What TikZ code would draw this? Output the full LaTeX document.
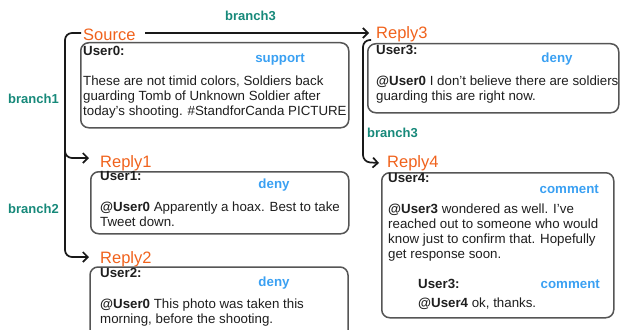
\documentclass[tikz,border=0pt]{standalone}
\usepackage{fontspec}
\setmainfont{Liberation Sans}
\usetikzlibrary{arrows.meta}
\definecolor{orng}{HTML}{F0621C}
\definecolor{brteal}{HTML}{17897A}
\definecolor{stance}{HTML}{3AA0F2}
\definecolor{boxc}{HTML}{555555}
\definecolor{txt}{HTML}{1E1E1E}
\tikzset{
  post/.style={draw=boxc, line width=1.5pt, rounded corners=8pt, inner sep=0pt, anchor=north west},
  conn/.style={draw=black!90, line width=1.7pt, rounded corners=7pt, -{Straight Barb[length=5pt,width=10pt]}},
  lbl/.style={text=orng, font=\fontsize{16.5}{18}\selectfont, inner sep=0pt, anchor=base west},
  br/.style={text=brteal, font=\fontsize{13}{15}\selectfont\bfseries, inner sep=0pt, anchor=base west},
  usr/.style={text=txt, font=\fontsize{13.3}{15}\selectfont\bfseries, inner sep=0pt, anchor=base west},
  body/.style={text=txt, font=\fontsize{13.3}{15}\selectfont, inner sep=0pt, anchor=base west},
  stc/.style={text=stance, font=\fontsize{13.3}{15}\selectfont\bfseries, inner sep=0pt, anchor=base},
  stcr/.style={stc, anchor=base east},
}
\begin{document}
\begin{tikzpicture}[x=1pt,y=-1pt]
\useasboundingbox (0,0) rectangle (620,329);
% boxes
\node[post, minimum width=268pt, minimum height=85pt] (src) at (80,42) {};
\node[post, minimum width=251pt, minimum height=69pt] (r3) at (367,43) {};
\node[post, minimum width=258pt, minimum height=62pt] (r1) at (90,171) {};
\node[post, minimum width=232pt, minimum height=145pt] (r4) at (381,172) {};
\draw[draw=boxc, line width=1.5pt, rounded corners=8pt] (90,330) -- (90,267) -- (348,267) -- (348,330);
% labels
\node[lbl] (srcl) at (83,41) {Source};
\node[lbl] (r3l) at (376,39) {Reply3};
\node[lbl] (r1l) at (100,167) {Reply1};
\node[lbl] (r2l) at (100,263) {Reply2};
\node[lbl] (r4l) at (387,167) {Reply4};
\node[br] (b3a) at (225,21) {branch3};
\node[br] (b1) at (8,103) {branch1};
\node[br] (b2) at (8,213) {branch2};
\node[br] (b3b) at (367,137) {branch3};
% source
\node[usr] (u0) at (83,56) {User0:};
\node[stc] (st0) at (280,62) {support};
\node[body] (s0a) at (83,85) {These are not timid colors, Soldiers back};
\node[body] (s0b) at (83,100) {guarding Tomb of Unknown Soldier after};
\node[body] (s0c) at (83,115) {today's shooting. \#StandforCanda PICTURE};
% reply3
\node[usr] (u3) at (376,55) {User3:};
\node[stc] (st3) at (557,62) {deny};
\node[body] (s3a) at (376,85) {\textbf{@User0} I don't believe there are soldiers};
\node[body] (s3b) at (376,100) {guarding this are right now.};
% reply1
\node[usr] (u1) at (100,180) {User1:};
\node[stc] (st1) at (274,188) {deny};
\node[body] (s1a) at (100,211) {\textbf{@User0} Apparently a hoax. Best to take};
\node[body] (s1b) at (100,226) {Tweet down.};
% reply2
\node[usr] (u2) at (100,277) {User2:};
\node[stc] (st2) at (274,286) {deny};
\node[body] (s2a) at (100,308) {\textbf{@User0} This photo was taken this};
\node[body] (s2b) at (100,323) {morning, before the shooting.};
% reply4
\node[usr] (u4) at (388,182) {User4:};
\node[stcr] (st4) at (599,193) {comment};
\node[body] (s4a) at (388,213) {\textbf{@User3} wondered as well. I've};
\node[body] (s4b) at (388,228) {reached out to someone who would};
\node[body] (s4c) at (388,243) {know just to confirm that. Hopefully};
\node[body] (s4d) at (388,258) {get response soon.};
\node[usr] (u34) at (418,288) {User3:};
\node[stcr] (st34) at (600,288) {comment};
\node[body] (s4e) at (418,307) {\textbf{@User4} ok, thanks.};
% connectors
\coordinate (topL) at (81,33);
\coordinate (topR) at (145,33);
\coordinate (r1in) at (89,158);
\coordinate (r2in) at (89,257);
\coordinate (r3in) at (369,33);
\coordinate (hook) at (371,40);
\coordinate (r4in) at (379,163);
\draw[conn] (topL) -- (65,33) -- (65,158) -- (r1in);
\draw[conn] (65,145) -- (65,257) -- (r2in);
\draw[conn, rounded corners=0pt] (topR) -- (r3in);
\draw[conn] (hook) -- (363,40) -- (363,162) -- (r4in);
\end{tikzpicture}
\end{document}
